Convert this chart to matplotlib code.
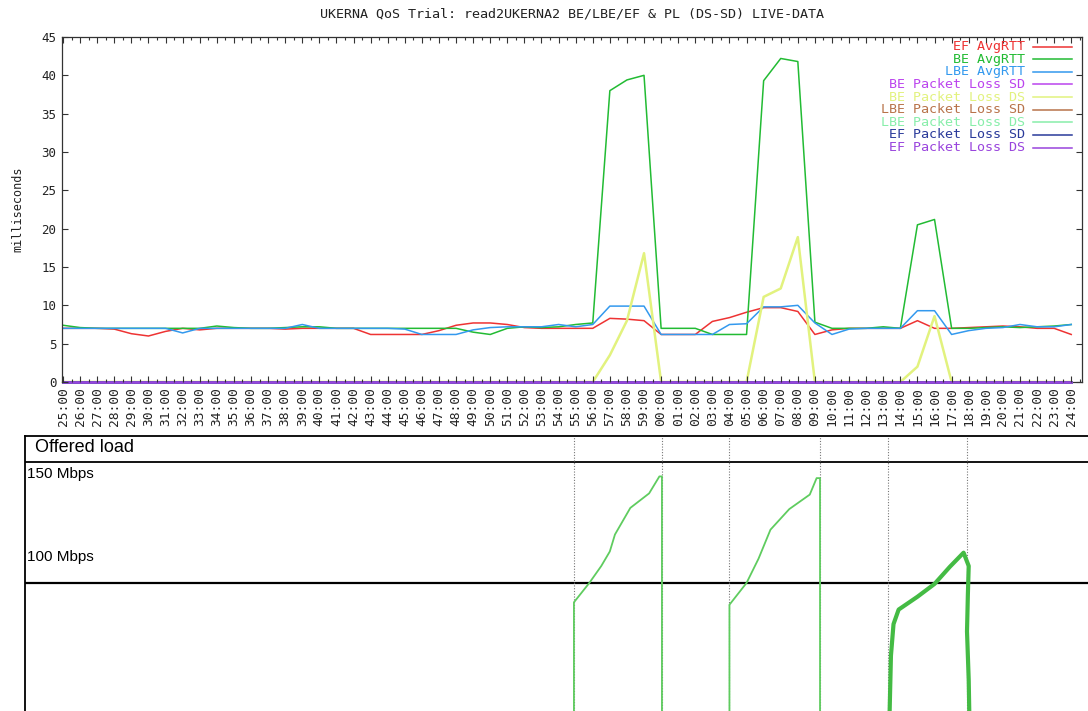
import numpy as np
import matplotlib
matplotlib.use("Agg")
import matplotlib.pyplot as plt

# --- data (one sample per minute, 25:00 -> 24:00) ---
minutes = list(range(60))
time_labels = [f"{(25 + m) % 60:02d}:00" for m in minutes]

ef_rtt = [7.0, 7.0, 7.0, 6.9, 6.3, 6.0, 6.6, 7.0, 6.8, 7.0,
          7.0, 7.0, 7.0, 6.9, 7.0, 7.0, 7.0, 7.0, 6.2, 6.2,
          6.2, 6.2, 6.7, 7.4, 7.7, 7.7, 7.5, 7.1, 7.0, 7.0,
          7.0, 7.0, 8.3, 8.2, 8.0, 6.2, 6.2, 6.2, 7.9, 8.4,
          9.1, 9.7, 9.7, 9.2, 6.2, 6.8, 7.0, 7.0, 7.0, 7.0,
          8.0, 7.0, 7.0, 7.1, 7.2, 7.3, 7.2, 7.0, 7.0, 6.2]
be_rtt = [7.4, 7.1, 7.0, 7.0, 7.0, 7.0, 7.0, 7.0, 7.0, 7.3,
          7.1, 7.0, 7.0, 7.1, 7.2, 7.2, 7.0, 7.0, 7.0, 7.0,
          7.0, 7.0, 7.0, 7.0, 6.5, 6.2, 7.0, 7.2, 7.1, 7.2,
          7.5, 7.7, 38.0, 39.4, 40.0, 7.0, 7.0, 7.0, 6.2, 6.2,
          6.2, 39.3, 42.2, 41.8, 7.8, 7.0, 7.0, 7.0, 7.2, 7.0,
          20.5, 21.2, 7.0, 7.0, 7.1, 7.2, 7.1, 7.2, 7.3, 7.5]
lbe_rtt = [7.0, 7.0, 7.0, 7.0, 7.0, 7.0, 7.0, 6.4, 7.0, 7.0,
           7.0, 7.0, 7.0, 7.0, 7.5, 7.0, 7.0, 7.0, 7.0, 7.0,
           6.9, 6.2, 6.2, 6.2, 6.8, 7.1, 7.2, 7.2, 7.2, 7.5,
           7.2, 7.5, 9.9, 9.9, 9.9, 6.2, 6.2, 6.2, 6.2, 7.5,
           7.6, 9.8, 9.8, 10.0, 7.7, 6.2, 6.9, 7.0, 7.0, 7.0,
           9.3, 9.3, 6.2, 6.7, 7.0, 7.1, 7.5, 7.2, 7.2, 7.5]
be_loss_ds = [0, 0, 0, 0, 0, 0, 0, 0, 0, 0,
              0, 0, 0, 0, 0, 0, 0, 0, 0, 0,
              0, 0, 0, 0, 0, 0, 0, 0, 0, 0,
              0, 0, 3.5, 8.0, 16.8, 0, 0, 0, 0, 0,
              0, 11.1, 12.2, 18.9, 0, 0, 0, 0, 0, 0,
              2.0, 8.6, 0, 0, 0, 0, 0, 0, 0, 0]
be_loss_sd = [0] * 60
lbe_loss_sd = [0] * 60
lbe_loss_ds = [0] * 60
ef_loss_sd = [0] * 60
ef_loss_ds = [0] * 60

series_labels = ["EF AvgRTT", "BE AvgRTT", "LBE AvgRTT",
                 "BE Packet Loss SD", "BE Packet Loss DS",
                 "LBE Packet Loss SD", "LBE Packet Loss DS",
                 "EF Packet Loss SD", "EF Packet Loss DS"]
series_colors = ["#ee3333", "#22bb33", "#3399ee", "#bb44ee", "#e2f27e",
                 "#b8734a", "#88eeaa", "#2a3a9a", "#9944dd"]
series_data = [ef_rtt, be_rtt, lbe_rtt, be_loss_sd, be_loss_ds,
               lbe_loss_sd, lbe_loss_ds, ef_loss_sd, ef_loss_ds]

# offered load sketch (minute, Mbps)
load1_t = [29.9, 29.9, 30.8, 31.5, 32.0, 32.3, 33.2, 34.3, 34.9, 35.05, 35.05]
load1_v = [40, 92, 100, 107, 113, 120, 131, 137, 144, 144, 40]
load2_t = [39.0, 39.0, 40.0, 40.7, 41.4, 42.5, 43.7, 44.1, 44.3, 44.3]
load2_v = [40, 91, 100, 110, 122, 130.5, 136.5, 143.3, 143.3, 40]
load3_t = [48.35, 48.45, 48.6, 48.9, 50.0, 51.0, 51.9, 52.7, 53.0, 52.95, 52.9, 53.0, 53.05]
load3_v = [40, 70, 83, 89, 94.3, 99.6, 106.7, 112.5, 107, 95, 80, 60, 40]
load_marks = [29.9, 35.05, 39.0, 44.3, 48.3, 52.9]

W, H = 1088, 711
fig = plt.figure(figsize=(W / 100, H / 100), dpi=100)
mono = "DejaVu Sans Mono"
txt = "#222222"

# top chart: 62..1082 px wide, 37..382 px tall
ax = fig.add_axes([62 / W, (H - 382) / H, (1082 - 62) / W, (382 - 37) / H])
ax.set_axisbelow(False)  # ticks drawn over the lines, like gnuplot
for lab, col, vals in zip(series_labels, series_colors, series_data):
    if "Loss" in lab:
        # loss lines sit on the x axis, keep them above the spine
        ax.plot(minutes, vals, color=col, lw=1.8, clip_on=False, zorder=2.4)
    else:
        ax.plot(minutes, vals, color=col, lw=1.1)

ax.set_xlim(-0.06, 59.63)
ax.set_ylim(0, 45)
ax.set_xticks(minutes)
ax.set_xticklabels(time_labels, rotation=90, fontfamily=mono, fontsize=9.3, color=txt)
ax.set_xticks(np.arange(0.5, 59.6, 1), minor=True)
ax.set_yticks(range(0, 46, 5))
ax.set_yticklabels([str(v) for v in range(0, 46, 5)], fontfamily=mono, fontsize=9, color=txt)
ax.tick_params(which="both", direction="in", top=True, right=True, color="#333333")
ax.tick_params(which="major", length=4, width=0.8, pad=4)
ax.tick_params(which="minor", length=2, width=0.8)
for s in ax.spines.values():
    s.set_color("#333333")
    s.set_linewidth(0.9)
ax.spines["bottom"].set_zorder(2.3)
ax.set_ylabel("milliseconds", fontfamily=mono, fontsize=8.5, color=txt, labelpad=12)
ax.set_title("UKERNA QoS Trial: read2UKERNA2 BE/LBE/EF & PL (DS-SD) LIVE-DATA",
             fontfamily=mono, fontsize=9.6, color=txt, pad=14)

# gnuplot style key, right aligned
for i, (lab, col) in enumerate(zip(series_labels, series_colors)):
    yy = 1 - (9.5 + i * 12.63) / 345
    ax.text((1025 - 62) / 1020, yy, lab, transform=ax.transAxes, ha="right",
            va="center", color=col, fontfamily=mono, fontsize=9.6)
    ax.plot([(1033 - 62) / 1020, (1072 - 62) / 1020], [yy, yy], color=col, lw=1.1,
            transform=ax.transAxes, clip_on=False)

# lower panel: offered load
ax2 = fig.add_axes([25 / W, 0, (W - 25) / W, (H - 436) / H])
ax2.set_xlim(-2.22, 59.98)
ax2.set_ylim(47.1, 160.7)
ax2.set_xticks([])
ax2.set_yticks([])
for side in ["right", "bottom"]:
    ax2.spines[side].set_visible(False)
ax2.spines["left"].set_linewidth(1.3)
ax2.spines["top"].set_linewidth(1.3)
ax2.axhline(150, color="black", lw=1.3)
ax2.axhline(100, color="black", lw=1.6)
for t in load_marks:
    ax2.axvline(t, color="#777777", lw=0.8, ls=(0, (1, 1.5)))
ax2.plot(load1_t, load1_v, color="#5fcc5f", lw=1.3)
ax2.plot(load2_t, load2_v, color="#5fcc5f", lw=1.3)
ax2.plot(load3_t, load3_v, color="#44bb44", lw=3)

ax2.text(35, H - 447, "Offered load", transform=None, fontsize=13,
         fontfamily="Liberation Sans", va="center", ha="left")
ax2.text(27, H - 474, "150 Mbps", transform=None, fontsize=11,
         fontfamily="Liberation Sans", va="center", ha="left")
ax2.text(27, H - 557, "100 Mbps", transform=None, fontsize=11,
         fontfamily="Liberation Sans", va="center", ha="left")

plt.savefig("out.png", dpi=100)
